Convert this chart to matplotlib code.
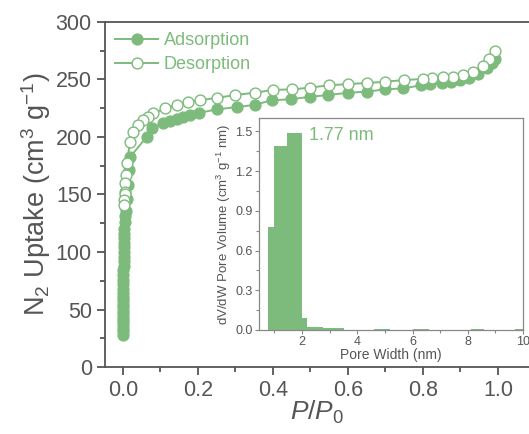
import matplotlib.pyplot as plt
from matplotlib.ticker import MultipleLocator

plt.rcParams['font.family'] = ['Liberation Sans', 'DejaVu Sans']
plt.rcParams['mathtext.fontset'] = 'custom'
plt.rcParams['mathtext.rm'] = 'Liberation Sans'
plt.rcParams['mathtext.it'] = 'Liberation Sans:italic'

green = '#7dbb7d'
gray = '#555555'

# isotherm, adsorption branch (filled)
ads_p = [0.0001, 0.0001, 0.0002, 0.0002, 0.0003, 0.0003, 0.0004, 0.0004, 0.0005, 0.0005,
         0.0006, 0.0007, 0.0008, 0.0009, 0.001, 0.0011, 0.0012, 0.0013, 0.0014, 0.0015,
         0.0016, 0.0018, 0.002, 0.0022, 0.0025, 0.003, 0.004, 0.005, 0.006, 0.008,
         0.011, 0.014, 0.017, 0.02, 0.063, 0.077, 0.107, 0.125, 0.143, 0.16, 0.179, 0.203,
         0.25, 0.303, 0.352, 0.397, 0.448, 0.499, 0.548, 0.6, 0.65, 0.699, 0.748, 0.796,
         0.819, 0.85, 0.874, 0.899, 0.924, 0.948, 0.97, 0.983, 0.992]
ads_v = [28, 31, 34, 37, 40, 43, 46, 49, 52, 55,
         58, 61, 64, 68, 72, 76, 80, 84, 88, 92,
         96, 100, 104, 108, 112, 116, 120, 126, 131, 136,
         146, 158, 171, 183, 200, 207.5, 212, 214, 216, 217.6, 219, 221,
         224, 226, 228, 232, 232.8, 235, 236.5, 238.5, 239.4, 241.4, 242.3, 245,
         246, 247, 248, 249.6, 251.6, 254.8, 259.7, 264, 268]

# desorption branch (open)
des_p = [0.992, 0.977, 0.959, 0.934, 0.908, 0.881, 0.854, 0.823, 0.799, 0.749,
         0.7, 0.65, 0.601, 0.55, 0.5, 0.452, 0.401, 0.352, 0.299, 0.25, 0.205,
         0.174, 0.143, 0.112, 0.081, 0.068, 0.054, 0.041, 0.028, 0.019, 0.01,
         0.007, 0.006, 0.005, 0.005, 0.004, 0.004]
des_v = [275, 268, 262, 256.8, 254, 252.4, 252, 251, 250.4, 249.6,
         248, 247, 246, 245, 243, 241.4, 241, 238.5, 236.5, 234, 232,
         230.7, 227.8, 224.9, 220.6, 217.7, 214.8, 210, 204.6, 196, 177,
         167, 160, 152, 150, 145, 141]

# pore size distribution
pore_edges = [0.77, 0.99, 1.47, 2.0, 2.17, 2.76, 3.5, 4.6, 5.2, 6.0, 6.6, 8.1, 8.6, 9.7, 10.0]
pore_vol = [0.78, 1.39, 1.49, 0.09, 0.02, 0.015, 0.003, 0.008, 0.003, 0.007, 0.002, 0.008, 0.002, 0.006]

fig = plt.figure(figsize=(5.29, 4.34), dpi=100)
ax = fig.add_axes([105 / 529, 67 / 434, 424 / 529, 345 / 434])

ax.plot(ads_p, ads_v, '-o', color=green, mfc=green, mec=green, ms=7.8, lw=1.4,
        label='Adsorption')
ax.plot(des_p, des_v, '-o', color=green, mfc='white', mec=green, ms=7.8, lw=1.4,
        label='Desorption')

ax.set_xlim(-0.048, 1.083)
ax.set_ylim(0, 300)
ax.xaxis.set_major_locator(MultipleLocator(0.2))
ax.xaxis.set_minor_locator(MultipleLocator(0.1))
ax.yaxis.set_major_locator(MultipleLocator(50))
ax.yaxis.set_minor_locator(MultipleLocator(25))
ax.spines['right'].set_visible(False)
for s in ['left', 'bottom', 'top']:
    ax.spines[s].set_color(gray)
    ax.spines[s].set_linewidth(1.3)
ax.tick_params(which='both', direction='out', colors=gray, labelcolor=gray,
               width=1.3, labelsize=15.5)
ax.tick_params(which='major', length=6)
ax.tick_params(which='minor', length=3.5)
ax.set_xlabel(r'$\mathit{P/P_0}$', fontsize=19, color=gray, labelpad=-2)
ax.set_ylabel('N$_2$ Uptake (cm$^3$ g$^{-1}$)', fontsize=19.5, color=gray, labelpad=2)

leg = ax.legend(loc='upper left', frameon=False, fontsize=13, handlelength=2.4,
                handletextpad=0.3, borderaxespad=0.15, labelspacing=0.4)
for t in leg.get_texts():
    t.set_color(green)

# inset
ins = fig.add_axes([259 / 529, 104 / 434, 264 / 529, 212 / 434])
ins.stairs(pore_vol, pore_edges, fill=True, color=green)
ins.set_xlim(0.44, 10)
ins.set_ylim(0, 1.6)
ins.xaxis.set_major_locator(MultipleLocator(2))
ins.xaxis.set_minor_locator(MultipleLocator(1))
ins.yaxis.set_major_locator(MultipleLocator(0.3))
ins.yaxis.set_minor_locator(MultipleLocator(0.15))
for s in ins.spines.values():
    s.set_color('#888888')
    s.set_linewidth(0.9)
ins.tick_params(which='both', direction='out', colors='#888888', labelcolor=gray,
                width=0.8, labelsize=9, pad=1.5)
ins.tick_params(which='major', length=3)
ins.tick_params(which='minor', length=2)
ins.set_xlabel('Pore Width (nm)', fontsize=10, color=gray, labelpad=0)
ins.set_ylabel('dV/dW Pore Volume (cm$^3$ g$^{-1}$ nm)', fontsize=9.5, color=gray, labelpad=2)
ins.text(2.25, 1.47, '1.77 nm', fontsize=13, color=green, va='center')

fig.savefig('out.png', dpi=100)
